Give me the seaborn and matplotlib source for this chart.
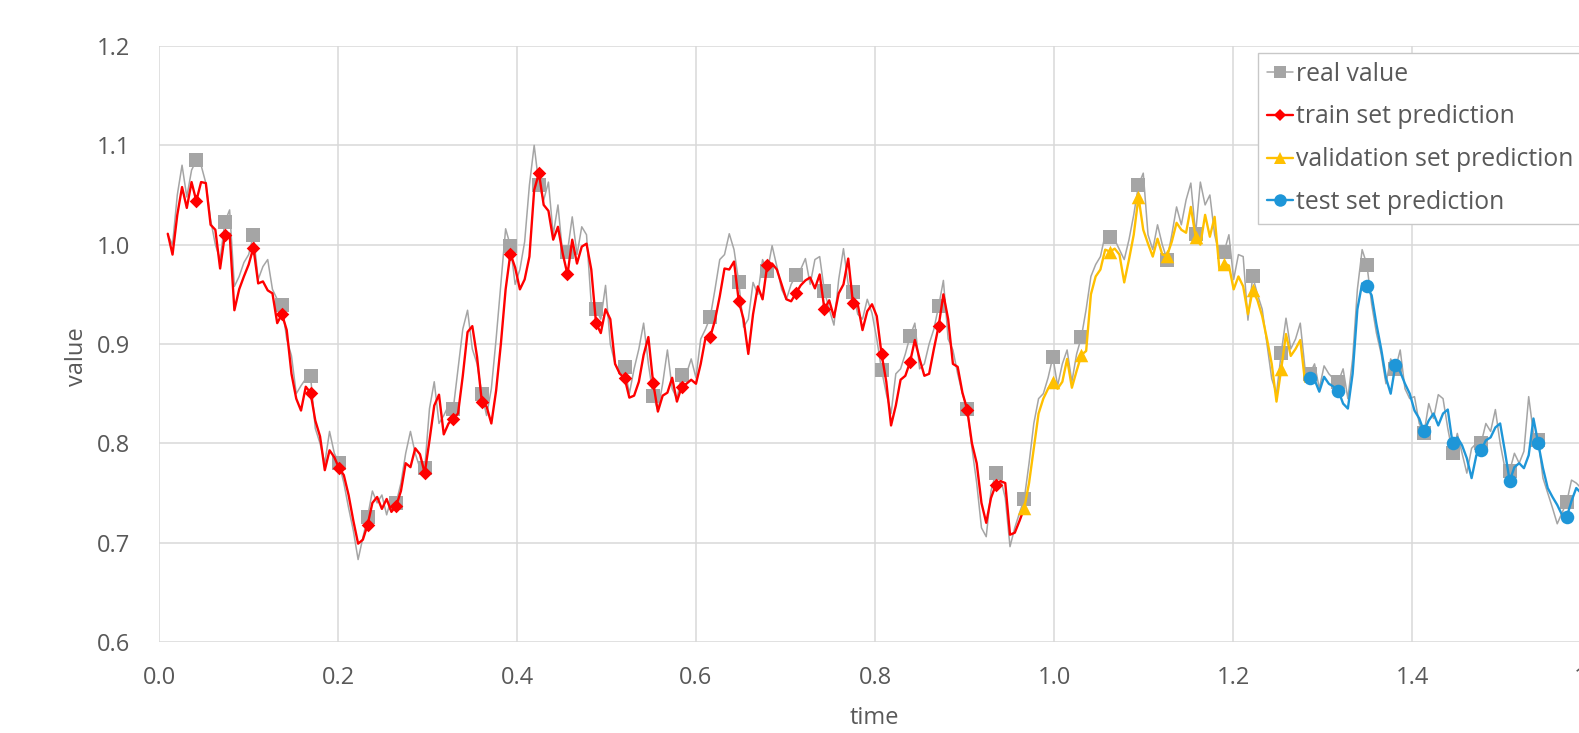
import numpy as np
import pandas as pd
import matplotlib
matplotlib.use("Agg")
import matplotlib.pyplot as plt
from matplotlib.lines import Line2D
from matplotlib.ticker import FormatStrFormatter
import seaborn as sns

# ---- data -----------------------------------------------------------------
T_START = 0.0098          # time of the first sample
T_STEP = 0.0053167        # sampling interval
MARK_EVERY = 6            # a marker on every 6th sample
VALID_START = 180         # first sample of the validation window
TEST_START = 240          # first sample of the test window

real_value = [
    1.010, 1.000, 1.050, 1.080, 1.048, 1.075, 1.085,
    1.080, 1.062, 1.025, 1.000, 0.985, 1.023,
    1.035, 0.958, 0.968, 0.982, 0.990, 1.010,
    0.965, 0.978, 0.985, 0.955, 0.945, 0.939,
    0.905, 0.888, 0.850, 0.858, 0.865, 0.868,
    0.815, 0.800, 0.780, 0.812, 0.790, 0.780,
    0.760, 0.735, 0.712, 0.683, 0.705, 0.726,
    0.752, 0.740, 0.748, 0.728, 0.745, 0.740,
    0.760, 0.790, 0.812, 0.790, 0.775, 0.775,
    0.835, 0.862, 0.820, 0.828, 0.838, 0.835,
    0.875, 0.915, 0.934, 0.895, 0.880, 0.850,
    0.828, 0.855, 0.905, 0.960, 1.016, 0.999,
    0.960, 0.975, 1.003, 1.060, 1.100, 1.060,
    1.045, 1.063, 1.010, 1.040, 0.990, 0.993,
    1.028, 0.990, 1.018, 1.010, 0.940, 0.935,
    0.925, 0.959, 0.900, 0.880, 0.872, 0.877,
    0.850, 0.875, 0.895, 0.921, 0.880, 0.848,
    0.833, 0.860, 0.894, 0.855, 0.845, 0.869,
    0.870, 0.885, 0.866, 0.905, 0.915, 0.927,
    0.955, 0.985, 0.990, 1.011, 0.995, 0.962,
    0.917, 0.925, 0.962, 0.950, 0.985, 0.973,
    0.999, 0.978, 0.955, 0.945, 0.960, 0.969,
    0.975, 0.986, 0.960, 0.985, 0.988, 0.953,
    0.935, 0.919, 0.965, 0.996, 0.960, 0.952,
    0.930, 0.925, 0.945, 0.931, 0.905, 0.874,
    0.850, 0.830, 0.870, 0.875, 0.890, 0.908,
    0.921, 0.875, 0.880, 0.900, 0.915, 0.938,
    0.964, 0.905, 0.894, 0.870, 0.850, 0.835,
    0.795, 0.760, 0.715, 0.706, 0.752, 0.770,
    0.765, 0.745, 0.696, 0.715, 0.730, 0.744,
    0.780, 0.820, 0.845, 0.850, 0.866, 0.887,
    0.858, 0.880, 0.894, 0.862, 0.890, 0.907,
    0.935, 0.968, 0.980, 0.988, 1.010, 1.008,
    1.005, 0.995, 0.985, 1.005, 1.030, 1.060,
    1.072, 1.010, 0.995, 1.020, 1.000, 0.985,
    1.010, 1.038, 1.020, 1.045, 1.062, 1.011,
    1.063, 1.040, 1.050, 1.010, 0.990, 0.993,
    1.010, 0.965, 0.990, 0.988, 0.924, 0.968,
    0.950, 0.935, 0.900, 0.865, 0.850, 0.891,
    0.926, 0.895, 0.905, 0.921, 0.875, 0.870,
    0.880, 0.855, 0.878, 0.870, 0.865, 0.862,
    0.875, 0.845, 0.885, 0.955, 0.995, 0.980,
    0.940, 0.911, 0.890, 0.860, 0.885, 0.875,
    0.894, 0.855, 0.845, 0.847, 0.820, 0.810,
    0.840, 0.825, 0.849, 0.845, 0.815, 0.790,
    0.810, 0.790, 0.770, 0.795, 0.800, 0.800,
    0.820, 0.812, 0.834, 0.800, 0.775, 0.772,
    0.790, 0.780, 0.792, 0.847, 0.810, 0.803,
    0.765, 0.750, 0.735, 0.719, 0.730, 0.741,
    0.763, 0.760, 0.755, 0.750, 0.748, 0.745,
]

predicted = [
    1.011, 0.990, 1.030, 1.058, 1.037, 1.063, 1.044,
    1.063, 1.062, 1.020, 1.015, 0.976, 1.010,
    1.011, 0.934, 0.955, 0.968, 0.980, 0.997,
    0.961, 0.963, 0.954, 0.951, 0.921, 0.930,
    0.914, 0.870, 0.845, 0.833, 0.857, 0.851,
    0.823, 0.807, 0.773, 0.793, 0.786, 0.775,
    0.768, 0.748, 0.722, 0.699, 0.703, 0.718,
    0.740, 0.746, 0.734, 0.744, 0.731, 0.737,
    0.752, 0.780, 0.776, 0.795, 0.789, 0.770,
    0.803, 0.838, 0.849, 0.809, 0.820, 0.825,
    0.830, 0.868, 0.912, 0.918, 0.887, 0.842,
    0.837, 0.820, 0.853, 0.900, 0.955, 0.991,
    0.977, 0.955, 0.965, 0.988, 1.055, 1.072,
    1.040, 1.034, 1.005, 1.018, 0.991, 0.970,
    1.005, 0.981, 0.998, 1.001, 0.975, 0.921,
    0.911, 0.935, 0.925, 0.880, 0.870, 0.866,
    0.846, 0.848, 0.862, 0.889, 0.907, 0.861,
    0.832, 0.848, 0.851, 0.866, 0.842, 0.857,
    0.860, 0.864, 0.860, 0.880, 0.906, 0.907,
    0.924, 0.948, 0.976, 0.975, 0.983, 0.943,
    0.925, 0.890, 0.930, 0.958, 0.945, 0.980,
    0.981, 0.975, 0.960, 0.945, 0.943, 0.951,
    0.959, 0.964, 0.967, 0.956, 0.970, 0.935,
    0.944, 0.927, 0.951, 0.960, 0.986, 0.941,
    0.940, 0.914, 0.933, 0.940, 0.928, 0.890,
    0.862, 0.818, 0.838, 0.864, 0.868, 0.882,
    0.904, 0.885, 0.868, 0.870, 0.895, 0.918,
    0.950, 0.925, 0.880, 0.877, 0.851, 0.834,
    0.800, 0.780, 0.740, 0.720, 0.745, 0.758,
    0.762, 0.760, 0.708, 0.710, 0.722, 0.735,
    0.760, 0.795, 0.830, 0.845, 0.855, 0.862,
    0.855, 0.862, 0.885, 0.856, 0.873, 0.889,
    0.893, 0.950, 0.968, 0.975, 0.995, 0.993,
    0.996, 0.990, 0.962, 0.985, 1.010, 1.048,
    1.015, 1.001, 0.988, 1.006, 0.990, 0.989,
    1.003, 1.022, 1.015, 1.012, 1.038, 1.008,
    1.000, 1.030, 1.008, 1.028, 0.975, 0.981,
    0.979, 0.955, 0.968, 0.958, 0.930, 0.954,
    0.944, 0.928, 0.905, 0.880, 0.842, 0.875,
    0.910, 0.888, 0.895, 0.904, 0.862, 0.866,
    0.864, 0.852, 0.867, 0.860, 0.857, 0.853,
    0.840, 0.835, 0.870, 0.935, 0.961, 0.958,
    0.949, 0.920, 0.895, 0.866, 0.850, 0.879,
    0.872, 0.860, 0.850, 0.833, 0.825, 0.812,
    0.823, 0.830, 0.818, 0.830, 0.834, 0.800,
    0.806, 0.798, 0.785, 0.765, 0.788, 0.793,
    0.803, 0.806, 0.816, 0.820, 0.792, 0.762,
    0.776, 0.780, 0.775, 0.788, 0.825, 0.800,
    0.775, 0.755, 0.746, 0.738, 0.728, 0.726,
    0.742, 0.755, 0.750, 0.748, 0.745, 0.742,
]

series_labels = ["real value", "train set prediction",
                 "validation set prediction", "test set prediction"]
x_ticks = [0.0, 0.2, 0.4, 0.6, 0.8, 1.0, 1.2, 1.4, 1.6]
y_ticks = [0.6, 0.7, 0.8, 0.9, 1.0, 1.1, 1.2]

# ---- styling ----------------------------------------------------------------
GRAY = "#A5A5A5"
RED = "#FF0000"
YELLOW = "#FFC000"
BLUE = "#1E96D8"
TEXT = "#595959"
GRID = "#D9D9D9"

sns.set_theme(style="white")
plt.rcParams["font.family"] = ["Open Sans", "DejaVu Sans"]

n = len(real_value)
idx = np.arange(n)
df = pd.DataFrame({
    "time": T_START + T_STEP * idx,
    "real": real_value,
    "pred": predicted,
})
df["marked"] = (idx % MARK_EVERY == 0) & (idx > 0)

# the prediction is split into three windows that share their end samples
train = df.iloc[:VALID_START + 1]
valid = df.iloc[VALID_START:TEST_START + 1]
test = df.iloc[TEST_START:]
train_m = df[df["marked"] & (idx < VALID_START)]
valid_m = df[df["marked"] & (idx >= VALID_START) & (idx < TEST_START)]
test_m = df[df["marked"] & (idx >= TEST_START)]
real_m = df[df["marked"]]

W, H = 1579, 733
fig = plt.figure(figsize=(W / 100, H / 100), dpi=100)
ax_left, ax_right, ax_top, ax_bottom = 159, 1591, 46, 642
ax = fig.add_axes([ax_left / W, 1 - ax_bottom / H,
                   (ax_right - ax_left) / W, (ax_bottom - ax_top) / H])

# real values underneath
sns.lineplot(data=df, x="time", y="real", color=GRAY, linewidth=1.1,
             estimator=None, sort=False, ax=ax, zorder=2, legend=False)
sns.scatterplot(data=real_m, x="time", y="real", marker="s", s=90,
                color=GRAY, linewidth=0, ax=ax, zorder=2.5, legend=False)

# predictions on top
for seg, seg_m, col, mk, size in [
    (train, train_m, RED, "D", 48),
    (valid, valid_m, YELLOW, "^", 95),
    (test, test_m, BLUE, "o", 95),
]:
    sns.lineplot(data=seg, x="time", y="pred", color=col, linewidth=1.7,
                 estimator=None, sort=False, ax=ax, zorder=3, legend=False)
    sns.scatterplot(data=seg_m, x="time", y="pred", marker=mk, s=size,
                    color=col, linewidth=0, ax=ax, zorder=3.5, legend=False)

ax.set_xlim(0.0, 1.6)
ax.set_ylim(0.6, 1.2)
ax.set_xticks(x_ticks)
ax.set_yticks(y_ticks)
ax.xaxis.set_major_formatter(FormatStrFormatter("%.1f"))
ax.yaxis.set_major_formatter(FormatStrFormatter("%.1f"))
ax.grid(True, color=GRID, linewidth=1.1)
ax.set_axisbelow(True)
for sp in ax.spines.values():
    sp.set_visible(False)
ax.tick_params(axis="both", length=0, labelsize=17, labelcolor=TEXT)
ax.tick_params(axis="x", pad=17.5)
ax.tick_params(axis="y", pad=21)

ax.set_xlabel("time", fontsize=17, color=TEXT)
ax.set_ylabel("value", fontsize=17, color=TEXT)
ax.xaxis.set_label_coords((874 - ax_left) / (ax_right - ax_left),
                          -(706 - ax_bottom) / (ax_bottom - ax_top))
ax.yaxis.set_label_coords((89 - ax_left) / (ax_right - ax_left),
                          (ax_bottom - 357) / (ax_bottom - ax_top))

handles = [
    Line2D([], [], color=GRAY, lw=1.1, marker="s", markersize=8, markeredgewidth=0),
    Line2D([], [], color=RED, lw=1.7, marker="D", markersize=6.5, markeredgewidth=0),
    Line2D([], [], color=YELLOW, lw=1.7, marker="^", markersize=9, markeredgewidth=0),
    Line2D([], [], color=BLUE, lw=1.7, marker="o", markersize=9, markeredgewidth=0),
]
leg = ax.legend(handles, series_labels, loc="upper left",
                bbox_to_anchor=(1258 / W, 1 - 53 / H), bbox_transform=fig.transFigure,
                borderaxespad=0, fontsize=17.8, labelcolor=TEXT, frameon=True,
                fancybox=False, framealpha=1, edgecolor="#C8C8C8",
                handlelength=1.05, handletextpad=0.15, labelspacing=0.72,
                borderpad=0.35)
leg.get_frame().set_linewidth(1.0)
leg.set_zorder(10)

fig.savefig("out.png", dpi=100, facecolor="white")
